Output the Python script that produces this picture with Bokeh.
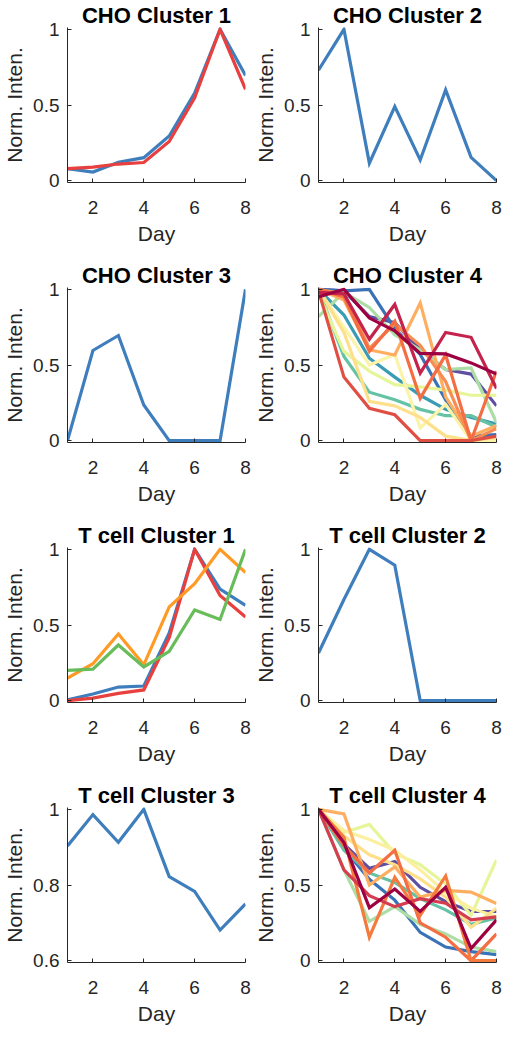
from bokeh.plotting import figure
from bokeh.layouts import column, row
from bokeh.models import Range1d, FixedTicker, CustomJSTickFormatter
from bokeh.embed import file_html
from bokeh.resources import INLINE

days = [1, 2, 3, 4, 5, 6, 7, 8]
x_ticks = [2, 4, 6, 8]
y_ticks_unit = [0, 0.5, 1]
y_ticks_tc3 = [0.6, 0.8, 1]

BLUE = "#3f7ebd"
RED = "#e8403f"
ORANGE = "#ff9a26"
GREEN = "#68bd5a"

# CHO Cluster 1
cho1_blue = [0.08, 0.057, 0.122, 0.152, 0.295, 0.579, 1.0, 0.695]
cho1_red = [0.08, 0.09, 0.11, 0.12, 0.259, 0.547, 1.0, 0.604]
# CHO Cluster 2
cho2_blue = [0.73, 1.0, 0.116, 0.49, 0.137, 0.60, 0.154, 0.0]
# CHO Cluster 3
cho3_blue = [0.0, 0.596, 0.695, 0.236, 0.0, 0.0, 0.0, 1.0]
# CHO Cluster 4
cho4_colors = ["#5e4fa2", "#3a72b8", "#3a9bb5", "#66c2a5", "#abdda4", "#e6f598",
               "#fbf3a8", "#fee08b", "#fdae61", "#f88d52", "#f46d43", "#e04f44",
               "#c4244b", "#9e0142"]
cho4_values = [
    [1.0, 0.99, 0.82, 0.78, 0.60, 0.47, 0.44, 0.23],
    [1.0, 0.99, 1.0, 0.74, 0.57, 0.27, 0.03, 0.04],
    [1.0, 0.83, 0.545, 0.42, 0.30, 0.207, 0.154, 0.11],
    [1.0, 0.556, 0.32, 0.27, 0.207, 0.165, 0.165, 0.09],
    [0.82, 0.98, 0.88, 0.70, 0.60, 0.47, 0.48, 0.12],
    [0.97, 0.59, 0.46, 0.37, 0.355, 0.334, 0.30, 0.30],
    [1.0, 0.75, 0.50, 0.57, 0.085, 0.24, 0.0, 0.0],
    [1.0, 0.715, 0.26, 0.23, 0.154, 0.03, 0.0, 0.02],
    [1.0, 0.93, 0.60, 0.566, 0.91, 0.29, 0.03, 0.10],
    [1.0, 0.97, 0.61, 0.77, 0.63, 0.39, 0.0, 0.08],
    [1.0, 0.95, 0.59, 0.79, 0.28, 0.567, 0.0, 0.46],
    [0.99, 0.42, 0.214, 0.171, 0.0, 0.0, 0.0, 0.03],
    [0.98, 0.97, 0.67, 0.90, 0.446, 0.715, 0.683, 0.345],
    [0.95, 1.0, 0.81, 0.725, 0.577, 0.573, 0.514, 0.44],
]
# T cell Cluster 1
tc1_blue = [0.005, 0.044, 0.09, 0.097, 0.447, 1.0, 0.737, 0.63]
tc1_red = [0.0, 0.017, 0.048, 0.071, 0.416, 1.0, 0.695, 0.553]
tc1_orange = [0.149, 0.244, 0.441, 0.237, 0.62, 0.773, 1.0, 0.847]
tc1_green = [0.20, 0.208, 0.368, 0.223, 0.326, 0.599, 0.536, 1.0]
# T cell Cluster 2
tc2_blue = [0.315, 0.668, 1.0, 0.895, 0.0, 0.0, 0.0, 0.0]
# T cell Cluster 3
tc3_blue = [0.903, 0.986, 0.913, 1.0, 0.822, 0.783, 0.681, 0.75]
# T cell Cluster 4
tc4_colors = ["#5e4fa2", "#3a72b8", "#66c2a5", "#abdda4", "#e6f598", "#fbf0a0",
              "#fee08b", "#fdae61", "#f46d43", "#f57a3d", "#d53e4f", "#9e0142"]
tc4_values = [
    [1, 0.77, 0.61, 0.655, 0.485, 0.39, 0.325, 0.325],
    [1, 0.74, 0.538, 0.40, 0.187, 0.09, 0.06, 0.04],
    [1, 0.73, 0.58, 0.517, 0.41, 0.336, 0.24, 0.283],
    [1, 0.60, 0.26, 0.357, 0.24, 0.177, 0.09, 0.06],
    [1, 0.847, 0.90, 0.709, 0.634, 0.506, 0.30, 0.666],
    [1, 0.86, 0.80, 0.73, 0.60, 0.45, 0.347, 0.29],
    [1, 0.825, 0.70, 0.634, 0.54, 0.42, 0.22, 0.347],
    [1, 0.97, 0.50, 0.62, 0.42, 0.464, 0.453, 0.378],
    [1, 0.76, 0.58, 0.73, 0.25, 0.155, 0.0, 0.177],
    [1, 0.815, 0.155, 0.55, 0.30, 0.56, 0.0, 0.0],
    [1, 0.60, 0.43, 0.357, 0.41, 0.38, 0.27, 0.29],
    [1, 0.78, 0.35, 0.474, 0.326, 0.485, 0.08, 0.27],
]

FONT = "Liberation Sans"
TXT = "#262626"
FW = 180
FH = 155


def panel(title, series, colors, yticks, left, right, top, bottom):
    ylo, yhi = yticks[0], yticks[-1]
    pad = 0.012 * (yhi - ylo)
    p = figure(width=left + FW + right, height=top + FH + bottom,
               output_backend="svg", toolbar_location=None,
               x_range=Range1d(1, 8), y_range=Range1d(ylo - pad, yhi + pad),
               min_border_left=left, min_border_right=right,
               min_border_top=top, min_border_bottom=bottom)
    p.title.text = title
    p.title.text_font = FONT
    p.title.text_font_size = "22px"
    p.title.text_font_style = "bold"
    p.title.text_color = "#000000"
    p.title.align = "center"
    p.title.standoff = 0
    p.outline_line_color = None
    p.xgrid.visible = False
    p.ygrid.visible = False
    for ax in (p.xaxis[0], p.yaxis[0]):
        ax.axis_line_color = TXT
        ax.axis_line_width = 1
        ax.major_tick_line_color = TXT
        ax.major_tick_in = 4
        ax.major_tick_out = 0
        ax.minor_tick_line_color = None
        ax.major_label_text_font = FONT
        ax.major_label_text_font_size = "19px"
        ax.major_label_text_color = TXT
        ax.axis_label_text_font = FONT
        ax.axis_label_text_font_style = "normal"
        ax.axis_label_text_color = TXT
        ax.formatter = CustomJSTickFormatter(code="return tick.toString();")
    p.xaxis.axis_label_text_font_size = "21px"
    p.yaxis.axis_label_text_font_size = "21px"
    p.xaxis.ticker = FixedTicker(ticks=x_ticks)
    p.yaxis.ticker = FixedTicker(ticks=yticks)
    p.xaxis.axis_label = "Day"
    p.yaxis.axis_label = "Norm. Inten."
    p.xaxis.major_label_standoff = 18
    p.xaxis.axis_label_standoff = 5
    p.yaxis.major_label_standoff = 8
    p.yaxis.axis_label_standoff = 4
    for vals, c in zip(series, colors):
        p.line(days, vals, line_color=c, line_width=3.2, line_join="miter")
    return p


L1, R1, L2, R2 = 65, 6, 65, 7
T = 27
B = 78
B4 = 72

p1 = panel("CHO Cluster 1", [cho1_blue, cho1_red], [BLUE, RED], y_ticks_unit, L1, R1, T, B)
p2 = panel("CHO Cluster 2", [cho2_blue], [BLUE], y_ticks_unit, L2, R2, T, B)
p3 = panel("CHO Cluster 3", [cho3_blue], [BLUE], y_ticks_unit, L1, R1, T, B)
p4 = panel("CHO Cluster 4", cho4_values, cho4_colors, y_ticks_unit, L2, R2, T, B)
p5 = panel("T cell Cluster 1", [tc1_blue, tc1_red, tc1_orange, tc1_green],
           [BLUE, RED, ORANGE, GREEN], y_ticks_unit, L1, R1, T, B)
p6 = panel("T cell Cluster 2", [tc2_blue], [BLUE], y_ticks_unit, L2, R2, T, B)
p7 = panel("T cell Cluster 3", [tc3_blue], [BLUE], y_ticks_tc3, L1, R1, T, B4)
p8 = panel("T cell Cluster 4", tc4_values, tc4_colors, y_ticks_unit, L2, R2, T, B4)

layout = column(row(p1, p2), row(p3, p4), row(p5, p6), row(p7, p8))
open("out.html", "w").write(file_html(layout, INLINE))
